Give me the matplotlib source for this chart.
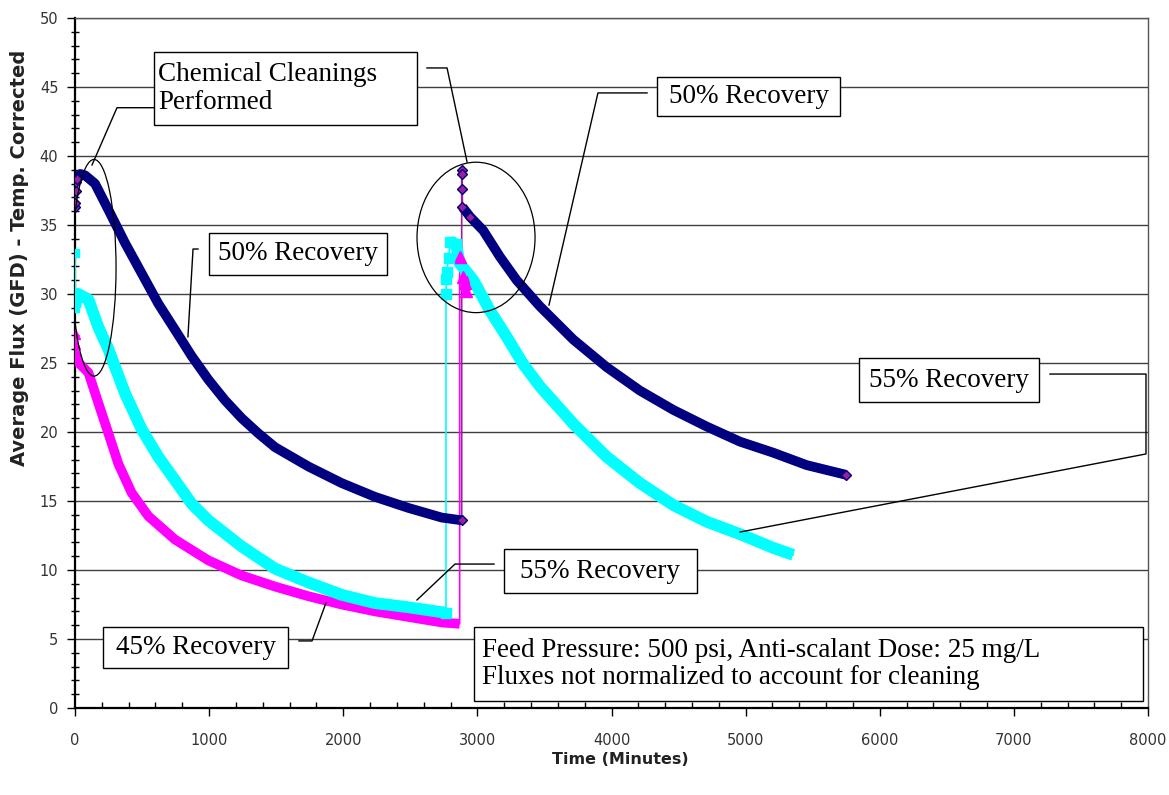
import matplotlib
matplotlib.use("Agg")
import matplotlib.pyplot as plt
from matplotlib.patches import Ellipse, Rectangle
from matplotlib.ticker import MultipleLocator

# 50% recovery (navy diamonds), first run and run after cleaning
navy_t1 = [0, 2, 5, 8, 12, 40, 75, 149, 249, 373, 497, 621, 746, 870, 994, 1118, 1243, 1367,
           1491, 1740, 1988, 2237, 2485, 2734, 2883]
navy_v1 = [36.3, 36.6, 37.5, 38.1, 38.3, 38.7, 38.6, 38.0, 36.1, 33.7, 31.5, 29.3, 27.4, 25.5, 23.8,
           22.3, 21.0, 19.9, 18.9, 17.5, 16.3, 15.3, 14.5, 13.8, 13.6]
navy_t2 = [2883, 2885, 2887, 2889, 2945, 3044, 3168, 3293, 3467, 3715, 3964, 4212, 4461, 4709,
           4958, 5206, 5455, 5748]
navy_v2 = [39.0, 38.7, 37.6, 36.3, 35.6, 34.6, 32.7, 31.0, 29.1, 26.7, 24.7, 23.0, 21.6, 20.4,
           19.3, 18.5, 17.6, 16.9]

# 55% recovery (cyan squares)
cyan_t1 = [0, 3, 6, 10, 25, 100, 174, 249, 373, 497, 621, 746, 870, 994, 1243, 1491, 1740,
           1988, 2237, 2485, 2766]
cyan_v1 = [33.0, 29.0, 29.5, 30.0, 30.0, 29.6, 27.6, 26.0, 22.8, 20.2, 18.2, 16.5, 14.8, 13.6,
           11.7, 10.1, 9.1, 8.2, 7.6, 7.3, 6.9]
cyan_t2 = [2766, 2768, 2772, 2785, 2796, 2840, 2870, 2970, 3094, 3218, 3343, 3467, 3715, 3964,
           4212, 4461, 4709, 4958, 5206, 5355]
cyan_v2 = [30.0, 31.1, 31.6, 32.6, 33.8, 33.6, 32.2, 31.0, 28.8, 26.9, 24.9, 23.3, 20.6, 18.2,
           16.3, 14.7, 13.5, 12.6, 11.6, 11.1]

# 45% recovery (magenta triangles)
mag_t1 = [0, 2, 4, 8, 100, 174, 249, 323, 422, 547, 746, 994, 1243, 1491, 1740, 1988, 2237,
          2485, 2734, 2868]
mag_v1 = [27.1, 26.4, 25.8, 25.2, 24.3, 22.1, 19.9, 17.7, 15.6, 13.9, 12.2, 10.7, 9.6, 8.8,
          8.1, 7.5, 7.0, 6.6, 6.2, 6.1]
mag_t2 = [2868, 2895, 2907, 2915]
mag_v2 = [32.7, 31.2, 30.8, 30.2]

plt.rcParams['font.family'] = ['DejaVu Sans']
serif = ['Liberation Serif', 'DejaVu Serif']

fig = plt.figure(figsize=(11.69, 7.95), dpi=100)
ax = fig.add_axes([75 / 1169, 1 - 708 / 795, 1073 / 1169, 690 / 795])

NAVY = '#000080'
PURPLE = '#9a1f9a'
CYAN = '#00ffff'
MAGENTA = '#ff00ff'

# thin connecting lines (whole series incl. jump after cleaning)
ax.plot(navy_t1 + navy_t2, navy_v1 + navy_v2, color=PURPLE, lw=1.2, zorder=3)
ax.plot(cyan_t1 + cyan_t2, cyan_v1 + cyan_v2, color=CYAN, lw=1.2, zorder=3)
ax.plot(mag_t1 + mag_t2, mag_v1 + mag_v2, color=MAGENTA, lw=1.2, zorder=3)

# thick bands made by the dense markers
band = dict(solid_capstyle='butt', solid_joinstyle='round')
ax.plot(mag_t1[3:], mag_v1[3:], color=MAGENTA, lw=7, zorder=4, **band)
ax.plot(cyan_t1[1:], cyan_v1[1:], color=CYAN, lw=8.5, zorder=4, **band)
ax.plot(cyan_t2[4:], cyan_v2[4:], color=CYAN, lw=8.5, zorder=4, **band)
ax.plot(mag_t2[1:], mag_v2[1:], color=MAGENTA, lw=7, zorder=4, **band)
ax.plot(navy_t1[3:], navy_v1[3:], color=NAVY, lw=7, zorder=5, **band)
ax.plot(navy_t2[3:], navy_v2[3:], color=NAVY, lw=7, zorder=5, **band)

# visible individual markers
ax.plot(mag_t1[:4], mag_v1[:4], ls='none', marker='^', ms=7, color=MAGENTA, zorder=6)
ax.plot(mag_t2, mag_v2, ls='none', marker='^', ms=8, color=MAGENTA, zorder=6)
ax.plot(cyan_t1[:2], cyan_v1[:2], ls='none', marker='s', ms=6, color=CYAN, zorder=6)
ax.plot(cyan_t2[:6], cyan_v2[:6], ls='none', marker='s', ms=6.5, color=CYAN, zorder=6)
ax.plot(cyan_t1[-1:], cyan_v1[-1:], ls='none', marker='s', ms=6.5, color=CYAN, zorder=6)
ax.plot(navy_t1[:5], navy_v1[:5], ls='none', marker='D', ms=5, mfc=PURPLE, mec=NAVY, zorder=7)
ax.plot(navy_t1[-1:], navy_v1[-1:], ls='none', marker='D', ms=5, mfc=PURPLE, mec=NAVY, zorder=7)
ax.plot(navy_t2[:5], navy_v2[:5], ls='none', marker='D', ms=5, mfc=PURPLE, mec=NAVY, zorder=7)
ax.plot(navy_t2[-1:], navy_v2[-1:], ls='none', marker='D', ms=5, mfc=PURPLE, mec=NAVY, zorder=7)

# axes
ax.set_xlim(0, 8000)
ax.set_ylim(0, 50)
ax.xaxis.set_major_locator(MultipleLocator(1000))
ax.xaxis.set_minor_locator(MultipleLocator(200))
ax.yaxis.set_major_locator(MultipleLocator(5))
ax.yaxis.set_minor_locator(MultipleLocator(1))
ax.grid(axis='y', which='major', color='#404040', lw=1.0, zorder=1)
ax.set_axisbelow(True)
ax.tick_params(axis='both', which='major', direction='out', length=6, width=1, labelsize=10.5,
               labelcolor='#333333')
ax.tick_params(axis='x', which='major', pad=12)
ax.tick_params(axis='y', which='major', pad=6)
ax.tick_params(axis='x', which='minor', direction='in', length=4, width=1)
ax.tick_params(axis='y', which='minor', direction='inout', length=6, width=1)
for s in ['left', 'bottom']:
    ax.spines[s].set_linewidth(1.6)
    ax.spines[s].set_color('black')
for s in ['top', 'right']:
    ax.spines[s].set_linewidth(1.0)
    ax.spines[s].set_color('#555555')

fig.text(20 / 1169, 1 - 258 / 795, 'Average Flux (GFD) - Temp. Corrected', rotation=90,
         ha='center', va='center', fontsize=14, fontweight='bold', color='#222222')
fig.text(620 / 1169, 1 - 760 / 795, 'Time (Minutes)', ha='center', va='center',
         fontsize=11.5, fontweight='bold', color='#222222')

# cleaning ellipses
ax.add_patch(Ellipse((142, 31.9), 328, 15.7, fill=False, color='black', lw=0.9, zorder=8))
ax.add_patch(Ellipse((2990, 34.1), 880, 10.9, fill=False, color='black', lw=0.9, zorder=8))


def label_box(x0, x1, y0, y1, text, tx=None):
    ax.add_patch(Rectangle((x0, y0), x1 - x0, y1 - y0, facecolor='white', edgecolor='black',
                           lw=1.0, zorder=9))
    if tx is None:
        ax.text((x0 + x1) / 2, (y0 + y1) / 2, text, ha='center', va='center', fontsize=19.5,
                family=serif, zorder=10)
    else:
        ax.text(tx, (y0 + y1) / 2, text, ha='left', va='center', fontsize=19.5,
                family=serif, linespacing=1.15, zorder=10)


def leader(xs, ys):
    ax.plot(xs, ys, color='black', lw=1.0, zorder=8)


label_box(589, 2550, 42.25, 47.54, 'Chemical Cleanings\nPerformed', tx=620)
leader([589, 313, 127], [43.5, 43.5, 39.35])
leader([2624, 2774, 2923], [46.38, 46.38, 39.57])

label_box(999, 2326, 31.38, 34.42, '50% Recovery')
leader([917, 880, 842], [33.26, 33.26, 26.9])

label_box(4339, 5704, 42.9, 45.72, '50% Recovery')
leader([4265, 3899, 3534], [44.57, 44.57, 29.2])

label_box(5845, 7187, 22.17, 25.36, '55% Recovery')
leader([7269, 7985, 7985, 4958], [24.2, 24.2, 18.41, 12.75])

label_box(3198, 4637, 8.33, 11.52, '55% Recovery')
leader([3124, 2833, 2550], [10.43, 10.43, 7.83])

label_box(209, 1588, 2.9, 5.87, '45% Recovery')
leader([1670, 1767, 1871], [4.86, 4.86, 7.61])

label_box(2975, 7963, 0.51, 5.87,
          'Feed Pressure: 500 psi, Anti-scalant Dose: 25 mg/L\nFluxes not normalized to account for cleaning',
          tx=3034)

fig.savefig('out.png', dpi=100)
